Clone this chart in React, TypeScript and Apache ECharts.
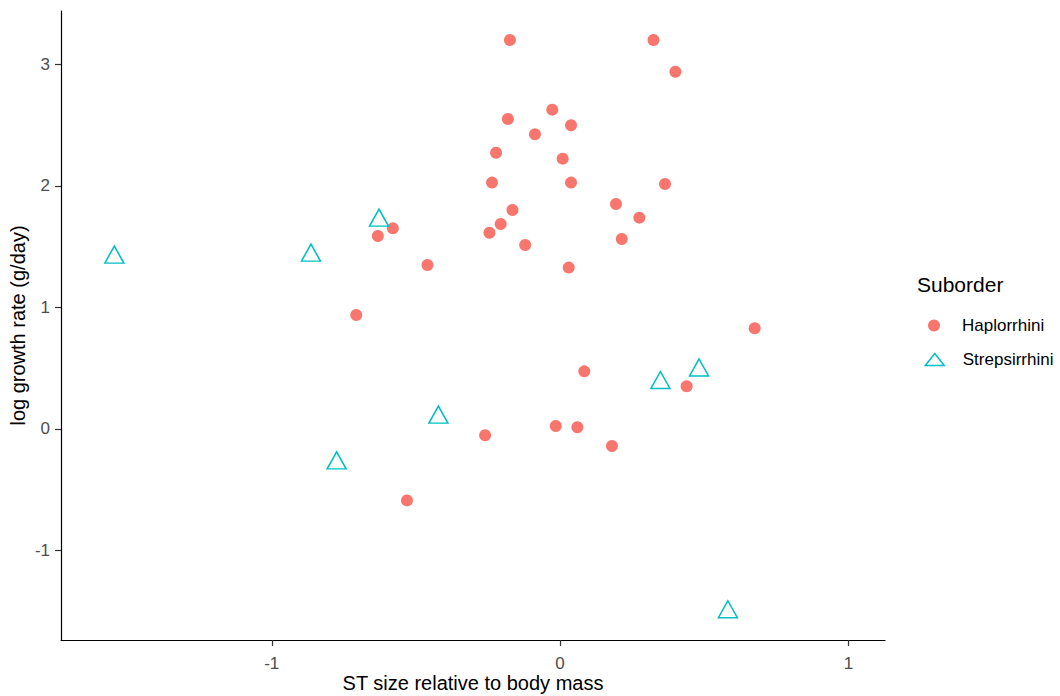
import { useEffect, useRef } from 'react';
import * as echarts from 'echarts';

// Relative stomach (ST) size vs. log growth rate, by primate suborder
const haploX = [-0.174, 0.324, 0.400, -0.181, -0.027, 0.038, -0.087, -0.222, 0.009, -0.236, 0.038, 0.364, 0.194, 0.275, 0.214, -0.165, -0.206, -0.245, -0.121, 0.030, -0.460, 0.675, -0.580, -0.632, -0.707, 0.084, 0.439, -0.260, -0.015, 0.060, 0.180, -0.531];
const haploY = [3.199, 3.199, 2.938, 2.549, 2.626, 2.497, 2.423, 2.272, 2.223, 2.026, 2.026, 2.015, 1.850, 1.738, 1.562, 1.801, 1.686, 1.614, 1.513, 1.327, 1.349, 0.828, 1.650, 1.587, 0.937, 0.474, 0.351, -0.052, 0.025, 0.014, -0.140, -0.587];

const strepX = [-1.546, -0.864, -0.628, -0.775, -0.422, 0.348, 0.482, 0.582];
const strepY = [1.434, 1.450, 1.738, -0.258, 0.118, 0.403, 0.506, -1.482];

const xTicks = [-1, 0, 1];
const yTicks = [-1, 0, 1, 2, 3];

const groups = ['Haplorrhini', 'Strepsirrhini'];
const legendTitle = 'Suborder';
const xTitle = 'ST size relative to body mass';
const yTitle = 'log growth rate (g/day)';

const FONT = '"Liberation Sans", Arial, sans-serif';
const RED = '#F8766D';
const TEAL = '#00BFC4';

export default function App() {
  const ref = useRef<HTMLDivElement>(null);

  useEffect(() => {
    const chart = echarts.init(ref.current!, null, { renderer: 'svg' });
    const axisCommon = {
      axisLine: { show: true, onZero: false, lineStyle: { color: '#000', width: 1.2 } },
      axisTick: { show: true, length: 6, lineStyle: { color: '#333', width: 1.2 } },
      splitLine: { show: false },
      nameLocation: 'middle' as const,
      nameMoveOverlap: false,
    };
    chart.setOption({
      animation: false,
      backgroundColor: '#fff',
      grid: { left: 61, right: 175, top: 11, bottom: 56, containLabel: false, outerBoundsMode: 'none' },
      xAxis: {
        type: 'value',
        min: -1.731,
        max: 1.127,
        name: xTitle,
        nameGap: 33,
        nameTextStyle: { fontSize: 20, lineHeight: 20, color: '#000', fontFamily: FONT },
        ...axisCommon,
        axisTick: { ...axisCommon.axisTick, customValues: xTicks },
        axisLabel: { customValues: xTicks, fontSize: 17, lineHeight: 17, color: '#4D4D4D', fontFamily: FONT, margin: 15 },
      },
      yAxis: {
        type: 'value',
        min: -1.735,
        max: 3.437,
        name: yTitle,
        nameGap: 33,
        nameRotate: 90,
        nameTextStyle: { fontSize: 20, color: '#000', fontFamily: FONT },
        ...axisCommon,
        axisTick: { ...axisCommon.axisTick, customValues: yTicks },
        axisLabel: { customValues: yTicks, fontSize: 17, color: '#4D4D4D', fontFamily: FONT, margin: 11 },
      },
      legend: [
        {
          data: [groups[0]],
          left: 928,
          top: 317,
          padding: 0,
          itemWidth: 12,
          itemHeight: 12,
          icon: 'circle',
          selectedMode: false,
          itemStyle: { color: RED, borderWidth: 0 },
          textStyle: { fontSize: 17, color: '#000', fontFamily: FONT, padding: [0, 0, 0, 17] },
        },
        {
          data: [groups[1]],
          left: 924.5,
          top: 351,
          padding: 0,
          itemWidth: 19,
          itemHeight: 12,
          icon: 'triangle',
          selectedMode: false,
          itemStyle: { color: 'rgba(0,0,0,0)', borderColor: TEAL, borderWidth: 1.5 },
          textStyle: { fontSize: 17, color: '#000', fontFamily: FONT, padding: [0, 0, 0, 13.5] },
        },
      ],
      graphic: [
        {
          type: 'text',
          left: 917,
          top: 274,
          style: { text: legendTitle, fontSize: 21, fill: '#000', fontFamily: FONT },
        },
      ],
      series: [
        {
          name: groups[0],
          type: 'scatter',
          symbol: 'circle',
          symbolSize: 12,
          itemStyle: { color: RED, opacity: 1 },
          emphasis: { disabled: true },
          data: haploX.map((x, i) => [x, haploY[i]]),
        },
        {
          name: groups[1],
          type: 'scatter',
          symbol: 'triangle',
          symbolSize: [19, 17],
          itemStyle: { color: 'rgba(0,0,0,0)', borderColor: TEAL, borderWidth: 1.5, opacity: 1 },
          emphasis: { disabled: true },
          data: strepX.map((x, i) => [x, strepY[i]]),
        },
      ],
    });
    return () => chart.dispose();
  }, []);

  return (
    <div
      ref={ref}
      style={{ position: 'fixed', left: 0, top: 0, width: 1060, height: 696, background: '#fff' }}
    />
  );
}
